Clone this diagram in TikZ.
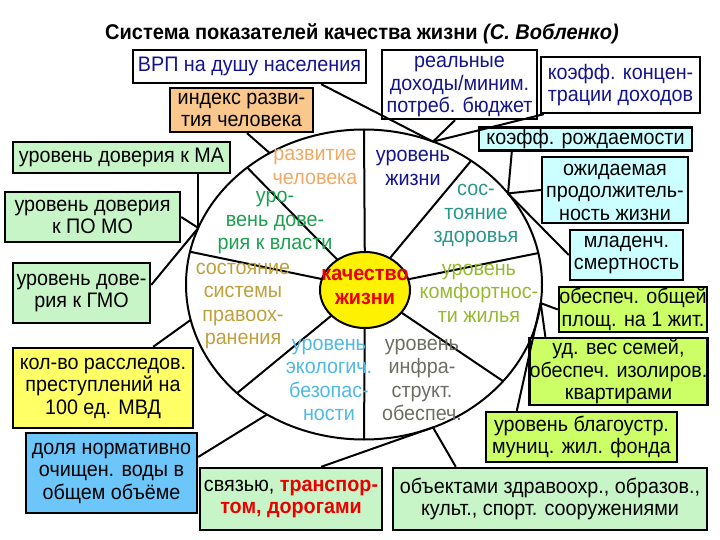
\documentclass[tikz,border=0pt]{standalone}
\usepackage{fontspec}
\setmainfont{Liberation Sans}[FakeStretch=0.94]
\usetikzlibrary{shapes.geometric}
\definecolor{navyc}{RGB}{20,20,140}
\definecolor{orfill}{RGB}{250,200,140}
\definecolor{cyfill}{RGB}{204,255,255}
\definecolor{grfill}{RGB}{200,245,200}
\definecolor{ygfill}{RGB}{204,255,102}
\definecolor{yefill}{RGB}{255,255,102}
\definecolor{blfill}{RGB}{108,198,250}
\definecolor{crazv}{RGB}{240,170,100}
\definecolor{cvlast}{RGB}{30,160,80}
\definecolor{czdor}{RGB}{40,150,140}
\definecolor{cprav}{RGB}{190,160,60}
\definecolor{ckomf}{RGB}{150,185,50}
\definecolor{cekol}{RGB}{80,185,230}
\definecolor{cinfr}{RGB}{110,110,100}
\definecolor{cred}{RGB}{235,0,0}
\newcommand\bxf{\fontsize{21}{22.5}\selectfont}
\newcommand\lbf{\fontsize{21}{23.5}\selectfont}
\tikzset{
  box/.style={draw=black, line width=2.4pt, inner sep=0pt, align=center, font=\bxf, text=black},
  conn/.style={line width=2pt},
  lab/.style={align=center, font=\lbf, inner sep=0pt},
}
\begin{document}
\begin{tikzpicture}[x=1pt,y=-1pt]
\useasboundingbox[fill=white] (0,0) rectangle (720,540);
% title
\node[font=\fontsize{21.3}{23}\selectfont\bfseries] (title) at (362,34) {Система показателей качества жизни \textit{(С. Вобленко)}};
% big ellipse
\coordinate (E) at (364,284.5);
\draw[line width=2pt, fill=white] (E) ellipse [x radius=178pt, y radius=155pt];
\coordinate (O) at (365,288);
% divider ends
\coordinate (D1) at ({364+178*cos(90)},{284.5-155*sin(90)});
\coordinate (D2) at ({364+178*cos(53)},{284.5-155*sin(53)});
\coordinate (D3) at ({364+178*cos(11.7)},{284.5-155*sin(11.7)});
\coordinate (D4) at ({364+178*cos(-38.6)},{284.5-155*sin(-38.6)});
\coordinate (D5) at ({364+178*cos(-90)},{284.5-155*sin(-90)});
\coordinate (D6) at ({364+178*cos(-135.5)},{284.5-155*sin(-135.5)});
\coordinate (D7) at ({364+178*cos(167.8)},{284.5-155*sin(167.8)});
\coordinate (D8) at ({364+178*cos(131)},{284.5-155*sin(131)});
\foreach \d in {D1,D2,D3,D4,D5,D6,D7,D8} \draw[conn] (O) -- (\d);
% center
\node[draw=black, line width=2pt, fill=yellow, ellipse, minimum width=90pt, minimum height=76pt, inner sep=0pt] (core) at (365,290) {};
\node[lab, text=cred, font=\lbf\bfseries] (coretext) at (365,287) {качество\\жизни};
% sector labels
\node[lab, text=crazv] (s1) at (315,167) {развитие\\человека};
\node[lab, text=navyc] (s2) at (413,168) {уровень\\жизни};
\node[lab, text=cvlast] (s3) at (275,223) {уро-\\вень дове-\\рия к власти};
\node[lab, text=czdor] (s4) at (476,216) {сос-\\тояние\\здоровья};
\node[lab, text=cprav] (s5) at (243,306) {состояние\\системы\\правоох-\\ранения};
\node[lab, text=ckomf] (s6) at (479,293) {уровень\\комфортнос-\\ти жилья};
\node[lab, text=cekol] (s7) at (329,380) {уровень\\экологич.\\безопас-\\ности};
\node[lab, text=cinfr] (s8) at (422,380) {уровень\\инфра-\\структ.\\обеспеч.};
% boxes
\node[box, fill=white, text=navyc, minimum width=233pt, minimum height=33pt] (vrp) at (249.5,66.5) {ВРП на душу населения};
\node[box, fill=white, text=navyc, minimum width=155pt, minimum height=69pt] (real) at (459.5,84.5) {\strut реальные\\доходы/миним.\\потреб. бюджет};
\node[box, fill=white, text=navyc, minimum width=159pt, minimum height=56pt] (konc) at (620.5,85) {коэфф. концен-\\трации доходов};
\node[box, fill=orfill, minimum width=143pt, minimum height=44pt] (index) at (241.5,110) {индекс разви-\\тия человека};
\node[box, fill=cyfill, minimum width=213pt, minimum height=23pt] (rozhd) at (585.5,139) {коэфф. рождаемости};
\node[box, fill=cyfill, minimum width=146pt, minimum height=66pt] (ozhid) at (615,190) {\strut ожидаемая\\продолжитель-\\ность жизни};
\node[box, fill=cyfill, minimum width=113pt, minimum height=50pt] (mlad) at (626.5,255) {младенч.\\смертность};
\node[box, fill=ygfill, minimum width=148pt, minimum height=45pt] (obesp) at (633,309.5) {обеспеч. общей\\площ. на 1 жит.};
\node[box, fill=ygfill, minimum width=177pt, minimum height=67pt] (udves) at (618.5,371.5) {\strut уд. вес семей,\\обеспеч. изолиров.\\квартирами};
\node[box, fill=ygfill, minimum width=191pt, minimum height=50pt] (blag) at (581.5,437) {уровень благоустр.\\муниц. жил. фонда};
\node[box, fill=grfill, minimum width=314pt, minimum height=62pt] (obj) at (550,499) {объектами здравоохр., образов.,\\культ., спорт. сооружениями};
\node[box, fill=grfill, minimum width=182pt, minimum height=62pt] (svyaz) at (291,499) {связью, {\bfseries\color{cred}транспор-}\\{\bfseries\color{cred}том, дорогами}};
\node[box, fill=grfill, minimum width=217pt, minimum height=31pt] (ma) at (121.5,157.5) {уровень доверия к МА};
\node[box, fill=grfill, minimum width=175pt, minimum height=50pt] (pomo) at (92.5,217) {уровень доверия\\к ПО МО};
\node[box, fill=grfill, minimum width=137pt, minimum height=60pt] (gmo) at (81.5,293) {уровень дове-\\рия к ГМО};
\node[box, fill=yefill, minimum width=180pt, minimum height=80pt] (kol) at (103,388) {кол-во расследов.\\преступлений на\\100 ед. МВД};
\node[box, fill=blfill, minimum width=171pt, minimum height=80pt] (dolya) at (111.5,473) {доля нормативно\\очищен. воды в\\общем объёме};
% convergence points on the ellipse
\coordinate (Ctop) at ({364+178*cos(67.2)},{284.5-155*sin(67.2)});
\coordinate (Cidx) at ({364+178*cos(122)},{284.5-155*sin(122)});
\coordinate (Crt) at ({364+178*cos(36)},{284.5-155*sin(36)});
\coordinate (Cr) at ({364+178*cos(-6.9)},{284.5-155*sin(-6.9)});
\coordinate (Cbot) at ({364+178*cos(-67.2)},{284.5-155*sin(-67.2)});
\coordinate (Cdol) at ({364+178*cos(-123)},{284.5-155*sin(-123)});
\coordinate (Ckol) at ({364+178*cos(-166.8)},{284.5-155*sin(-166.8)});
\coordinate (Cl) at ({364+178*cos(158.6)},{284.5-155*sin(158.6)});
% connectors
\draw[conn] ([xshift=-46pt]vrp.south east) -- (Ctop);
\draw[conn] ([xshift=-4.5pt]real.south) -- (Ctop);
\draw[conn] ([xshift=4pt]konc.south west) -- (Ctop);
\draw[conn] ([xshift=5.5pt]index.south) -- (Cidx);
\draw[conn] ([xshift=34pt]rozhd.south west) -- (Crt);
\draw[conn] (ozhid.west) -- (Crt);
\draw[conn] (mlad.west) -- (Crt);
\draw[conn] (obesp.west) -- (Cr);
\draw[conn] ([xshift=17pt]udves.north west) -- (Cr);
\draw[conn] ([xshift=32pt]blag.north west) -- (Cr);
\draw[conn] ([xshift=64pt]obj.north west) -- (Cbot);
\draw[conn] ([xshift=-62pt]svyaz.north east) -- (Cbot);
\draw[conn] (Cl |- ma.south) -- (Cl);
\draw[conn] (pomo.east) -- (Cl);
\draw[conn] ([yshift=8pt]gmo.east) -- (Cl);
\draw[conn] ([xshift=-41pt]kol.north east) -- (Ckol);
\draw[conn] ([yshift=16pt]dolya.east) -- (Cdol);
\end{tikzpicture}
\end{document}
